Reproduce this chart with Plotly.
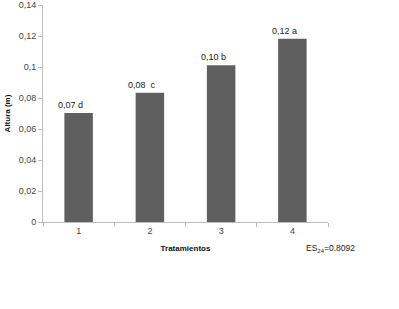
import plotly.graph_objects as go

categories = ["1", "2", "3", "4"]
values = [0.0703, 0.0834, 0.1011, 0.1183]
bar_labels = ["0,07 d", "0,08  c", "0,10 b", "0,12 a"]
y_tick_vals = [0, 0.02, 0.04, 0.06, 0.08, 0.10, 0.12, 0.14]
y_tick_text = ["0", "0,02", "0,04", "0,06", "0,08", "0,1", "0,12", "0,14"]
x_title = "Tratamientos"
y_title = "Altura (m)"
note = "ES<sub>24</sub>=0.8092"

FONT = "Liberation Sans, Arial, sans-serif"

fig = go.Figure()
fig.add_trace(go.Bar(
    x=categories, y=values,
    marker=dict(color="#5f5f5f", line=dict(width=0)),
    width=0.4,
    hoverinfo="skip",
))

for i, (v, t) in enumerate(zip(values, bar_labels)):
    fig.add_annotation(
        x=i, y=v, text=t, showarrow=False,
        xanchor="center", yanchor="bottom", xshift=-8, yshift=1,
        font=dict(family=FONT, size=9, color="#222222"),
    )

fig.add_annotation(
    x=0.915, y=-0.12, xref="paper", yref="paper", text=note,
    showarrow=False, xanchor="left", yanchor="middle",
    font=dict(family=FONT, size=8.5, color="#222222"),
)

fig.update_layout(
    width=399, height=309,
    margin=dict(l=43, r=71, t=5, b=87),
    paper_bgcolor="white", plot_bgcolor="white",
    showlegend=False,
    font=dict(family=FONT, size=9, color="#444444"),
    xaxis=dict(
        type="category", range=[-0.5, 3.5], automargin=False,
        showline=True, linecolor="#bdbdbd", linewidth=1,
        ticks="outside", tickson="boundaries", ticklen=4, tickcolor="#bdbdbd",
        tickfont=dict(family=FONT, size=9, color="#444444"),
        title=dict(text="<b>" + x_title + "</b>", standoff=10,
                   font=dict(family=FONT, size=8, color="#111111")),
        showgrid=False,
    ),
    yaxis=dict(
        range=[0, 0.14], automargin=False,
        tickvals=y_tick_vals, ticktext=y_tick_text,
        showline=True, linecolor="#bdbdbd", linewidth=1,
        ticks="outside", ticklen=4, tickcolor="#bdbdbd",
        tickfont=dict(family=FONT, size=9, color="#444444"),
        title=dict(text="<b>" + y_title + "</b>", standoff=6,
                   font=dict(family=FONT, size=8, color="#111111")),
        showgrid=False, zeroline=False,
    ),
)

fig.write_html("out.html", config={"displayModeBar": False},
               post_script="document.body.style.margin='0';")
